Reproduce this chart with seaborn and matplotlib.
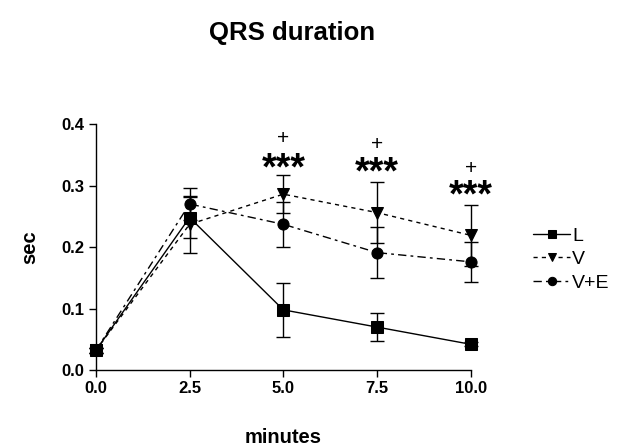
import matplotlib
matplotlib.use("Agg")
import matplotlib.pyplot as plt
import seaborn as sns
import pandas as pd
import numpy as np

sns.set_theme(style="ticks")
plt.rcParams['font.family'] = ['Liberation Sans', 'DejaVu Sans']
plt.rcParams.update({"text.color": "black", "axes.labelcolor": "black",
                     "xtick.color": "black", "ytick.color": "black"})

minutes = [0.0, 2.5, 5.0, 7.5, 10.0]
L_mean = [0.032, 0.248, 0.098, 0.070, 0.042]
L_err = [0.004, 0.033, 0.044, 0.023, 0.003]
V_mean = [0.032, 0.237, 0.286, 0.256, 0.219]
V_err = [0.004, 0.046, 0.031, 0.050, 0.050]
VE_mean = [0.032, 0.270, 0.237, 0.191, 0.176]
VE_err = [0.004, 0.026, 0.037, 0.042, 0.033]
series_names = ["L", "V", "V+E"]
sig_x = [5.0, 7.5, 10.0]
plus_y = [0.377, 0.367, 0.327]
star_y = [0.326, 0.320, 0.282]

means = [L_mean, V_mean, VE_mean]
errs = [L_err, V_err, VE_err]
df = pd.DataFrame({
    "minutes": minutes * 3,
    "sec": L_mean + V_mean + VE_mean,
    "group": sum([[n] * len(minutes) for n in series_names], []),
})

fig = plt.figure(figsize=(6.18, 4.46), dpi=100)
ax = fig.add_axes([0.155, 0.170, 0.607, 0.552])

markers = {"L": "s", "V": "v", "V+E": "o"}
dashes = {"L": "", "V": (3, 3), "V+E": (6, 3, 2, 3)}
sns.lineplot(data=df, x="minutes", y="sec", hue="group", style="group",
             palette={n: "black" for n in series_names}, markers=markers,
             dashes=dashes, markersize=8, linewidth=1, ax=ax,
             markeredgecolor="black", clip_on=False, zorder=3)

for m, e in zip(means, errs):
    ax.errorbar(minutes, m, yerr=e, fmt="none", ecolor="black", elinewidth=1,
                capsize=5, capthick=1, clip_on=False, zorder=2)

for x, py, sy in zip(sig_x, plus_y, star_y):
    ax.text(x, py, "+", ha="center", va="center", fontsize=15)
    ax.text(x, sy, "***", ha="center", va="center", fontsize=27, fontweight="bold")

ax.set_xlim(0, 10)
ax.set_ylim(0, 0.4)
ax.set_xticks(minutes)
ax.set_xticklabels([f"{v:.1f}" for v in minutes], fontweight="bold", fontsize=12)
yt = [0.0, 0.1, 0.2, 0.3, 0.4]
ax.set_yticks(yt)
ax.set_yticklabels([f"{v:.1f}" for v in yt], fontweight="bold", fontsize=12)
ax.tick_params(direction="out", length=5, width=1, colors="black", pad=3)
sns.despine(ax=ax)
for s in ["left", "bottom"]:
    ax.spines[s].set_color("black")
    ax.spines[s].set_linewidth(1)

ax.set_xlabel("minutes", fontweight="bold", fontsize=14.5, labelpad=23)
ax.set_ylabel("sec", fontweight="bold", fontsize=14.5, labelpad=16)
fig.text(0.472, 0.925, "QRS duration", ha="center", va="center",
         fontsize=18.5, fontweight="bold")

leg = ax.legend(loc="center left", bbox_to_anchor=(1.12, 0.45), frameon=False,
                fontsize=14, handlelength=1.9, handletextpad=0.1, labelspacing=0.3,
                markerscale=0.75)

fig.savefig("out.png", dpi=100)
